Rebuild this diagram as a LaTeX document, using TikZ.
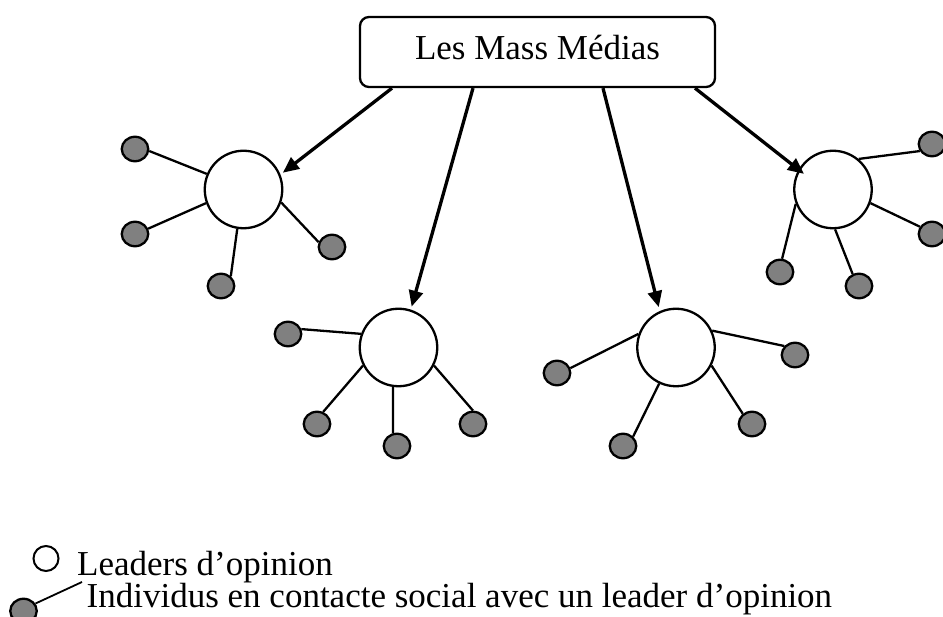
\documentclass[tikz,border=0pt]{standalone}
\usepackage{fontspec}
\setmainfont{Liberation Serif}
\usetikzlibrary{arrows.meta,shapes.geometric}

\definecolor{followgray}{RGB}{128,128,128}

\tikzset{
  leader/.style={circle, draw, line width=2.3pt, minimum size=77.5pt, inner sep=0pt, fill=white},
  follower/.style={ellipse, draw, line width=2.3pt, fill=followgray,
                   minimum width=26.5pt, minimum height=24.5pt, inner sep=0pt},
  tie/.style={line width=2.3pt},
  influence/.style={line width=3.3pt, -{Triangle[length=16pt,width=14pt]}},
  media/.style={draw, rounded corners=9pt, line width=2.3pt, minimum width=355pt,
                minimum height=70pt, text height=20pt, text depth=4pt, inner sep=0pt},
  txt/.style={font=\fontsize{35}{37}\selectfont, inner sep=0pt}
}

\begin{document}
\begin{tikzpicture}[x=1pt, y=-1pt]
  \useasboundingbox (0,0) rectangle (943,617);

  % source of the two-step flow
  \node[media, txt] (mm) at (537.5,52) {Les Mass Médias};

  % opinion leaders
  \node[leader] (l1) at (243.5,189.5) {};
  \node[leader] (l2) at (398.5,347.5) {};
  \node[leader] (l3) at (676,347.5) {};
  \node[leader] (l4) at (833,189.5) {};

  % individuals around each leader
  \node[follower] (l1a) at (135,149) {};
  \node[follower] (l1b) at (135,234) {};
  \node[follower] (l1c) at (221,286) {};
  \node[follower] (l1d) at (332,247) {};

  \node[follower] (l2a) at (288,334) {};
  \node[follower] (l2b) at (317,424) {};
  \node[follower] (l2c) at (397,446) {};
  \node[follower] (l2d) at (473,424) {};

  \node[follower] (l3a) at (557,373) {};
  \node[follower] (l3b) at (623,446) {};
  \node[follower] (l3c) at (752,424) {};
  \node[follower] (l3d) at (795,355) {};

  \node[follower] (l4a) at (932,144) {};
  \node[follower] (l4b) at (932,234) {};
  \node[follower] (l4c) at (780,272) {};
  \node[follower] (l4d) at (859,286) {};

  % social ties
  \draw[tie] (l1.157) -- (l1a.-8);
  \draw[tie] (l1.200) -- (l1b.22);
  \draw[tie] (l1.261) -- (l1c.45);
  \draw[tie] (l1.-19) -- (l1d.160);

  \draw[tie] (l2.160) -- (l2a.20);
  \draw[tie] (l2.207) -- (l2b.63);
  \draw[tie] (l2.262) -- (l2c.107);
  \draw[tie] (l2.-27) -- (l2d.90);

  \draw[tie] (l3.160) -- (l3a.20);
  \draw[tie] (l3.245) -- (l3b.43);
  \draw[tie] (l3.-27) -- (l3c.132);
  \draw[tie] (l3.25) -- (l3d.140);

  \draw[tie] (l4.50) -- (l4a.210);
  \draw[tie] (l4.-20) -- (l4b.149);
  \draw[tie] (l4.201) -- (l4c.81);
  \draw[tie] (l4.-87) -- (l4d.118);

  % media influence reaching the leaders
  \draw[influence, shorten >=3pt] ([xshift=-145.5pt]mm.south) -- (l1.22);
  \draw[influence, shorten >=3pt] ([xshift=-64.5pt]mm.south) -- (l2.72);
  \draw[influence, shorten >=4pt] ([xshift=65.5pt]mm.south) -- (l3.114);
  \draw[influence, shorten >=-7pt] ([xshift=157.5pt]mm.south) -- (l4.150);

  % legend
  \node[circle, draw, line width=2pt, minimum size=25pt, inner sep=0pt] (legL) at (46,558.5) {};
  \node[txt, anchor=base west] (legLt) at (77,575) {Leaders d’opinion};
  \node[follower] (legF) at (23.5,611) {};
  \coordinate (legE) at (82,582);
  \draw[line width=1.8pt] (legF.32) -- (legE);
  \node[txt, anchor=base west] (legFt) at (86.5,607) {Individus en contacte social avec un leader d’opinion};
\end{tikzpicture}
\end{document}
